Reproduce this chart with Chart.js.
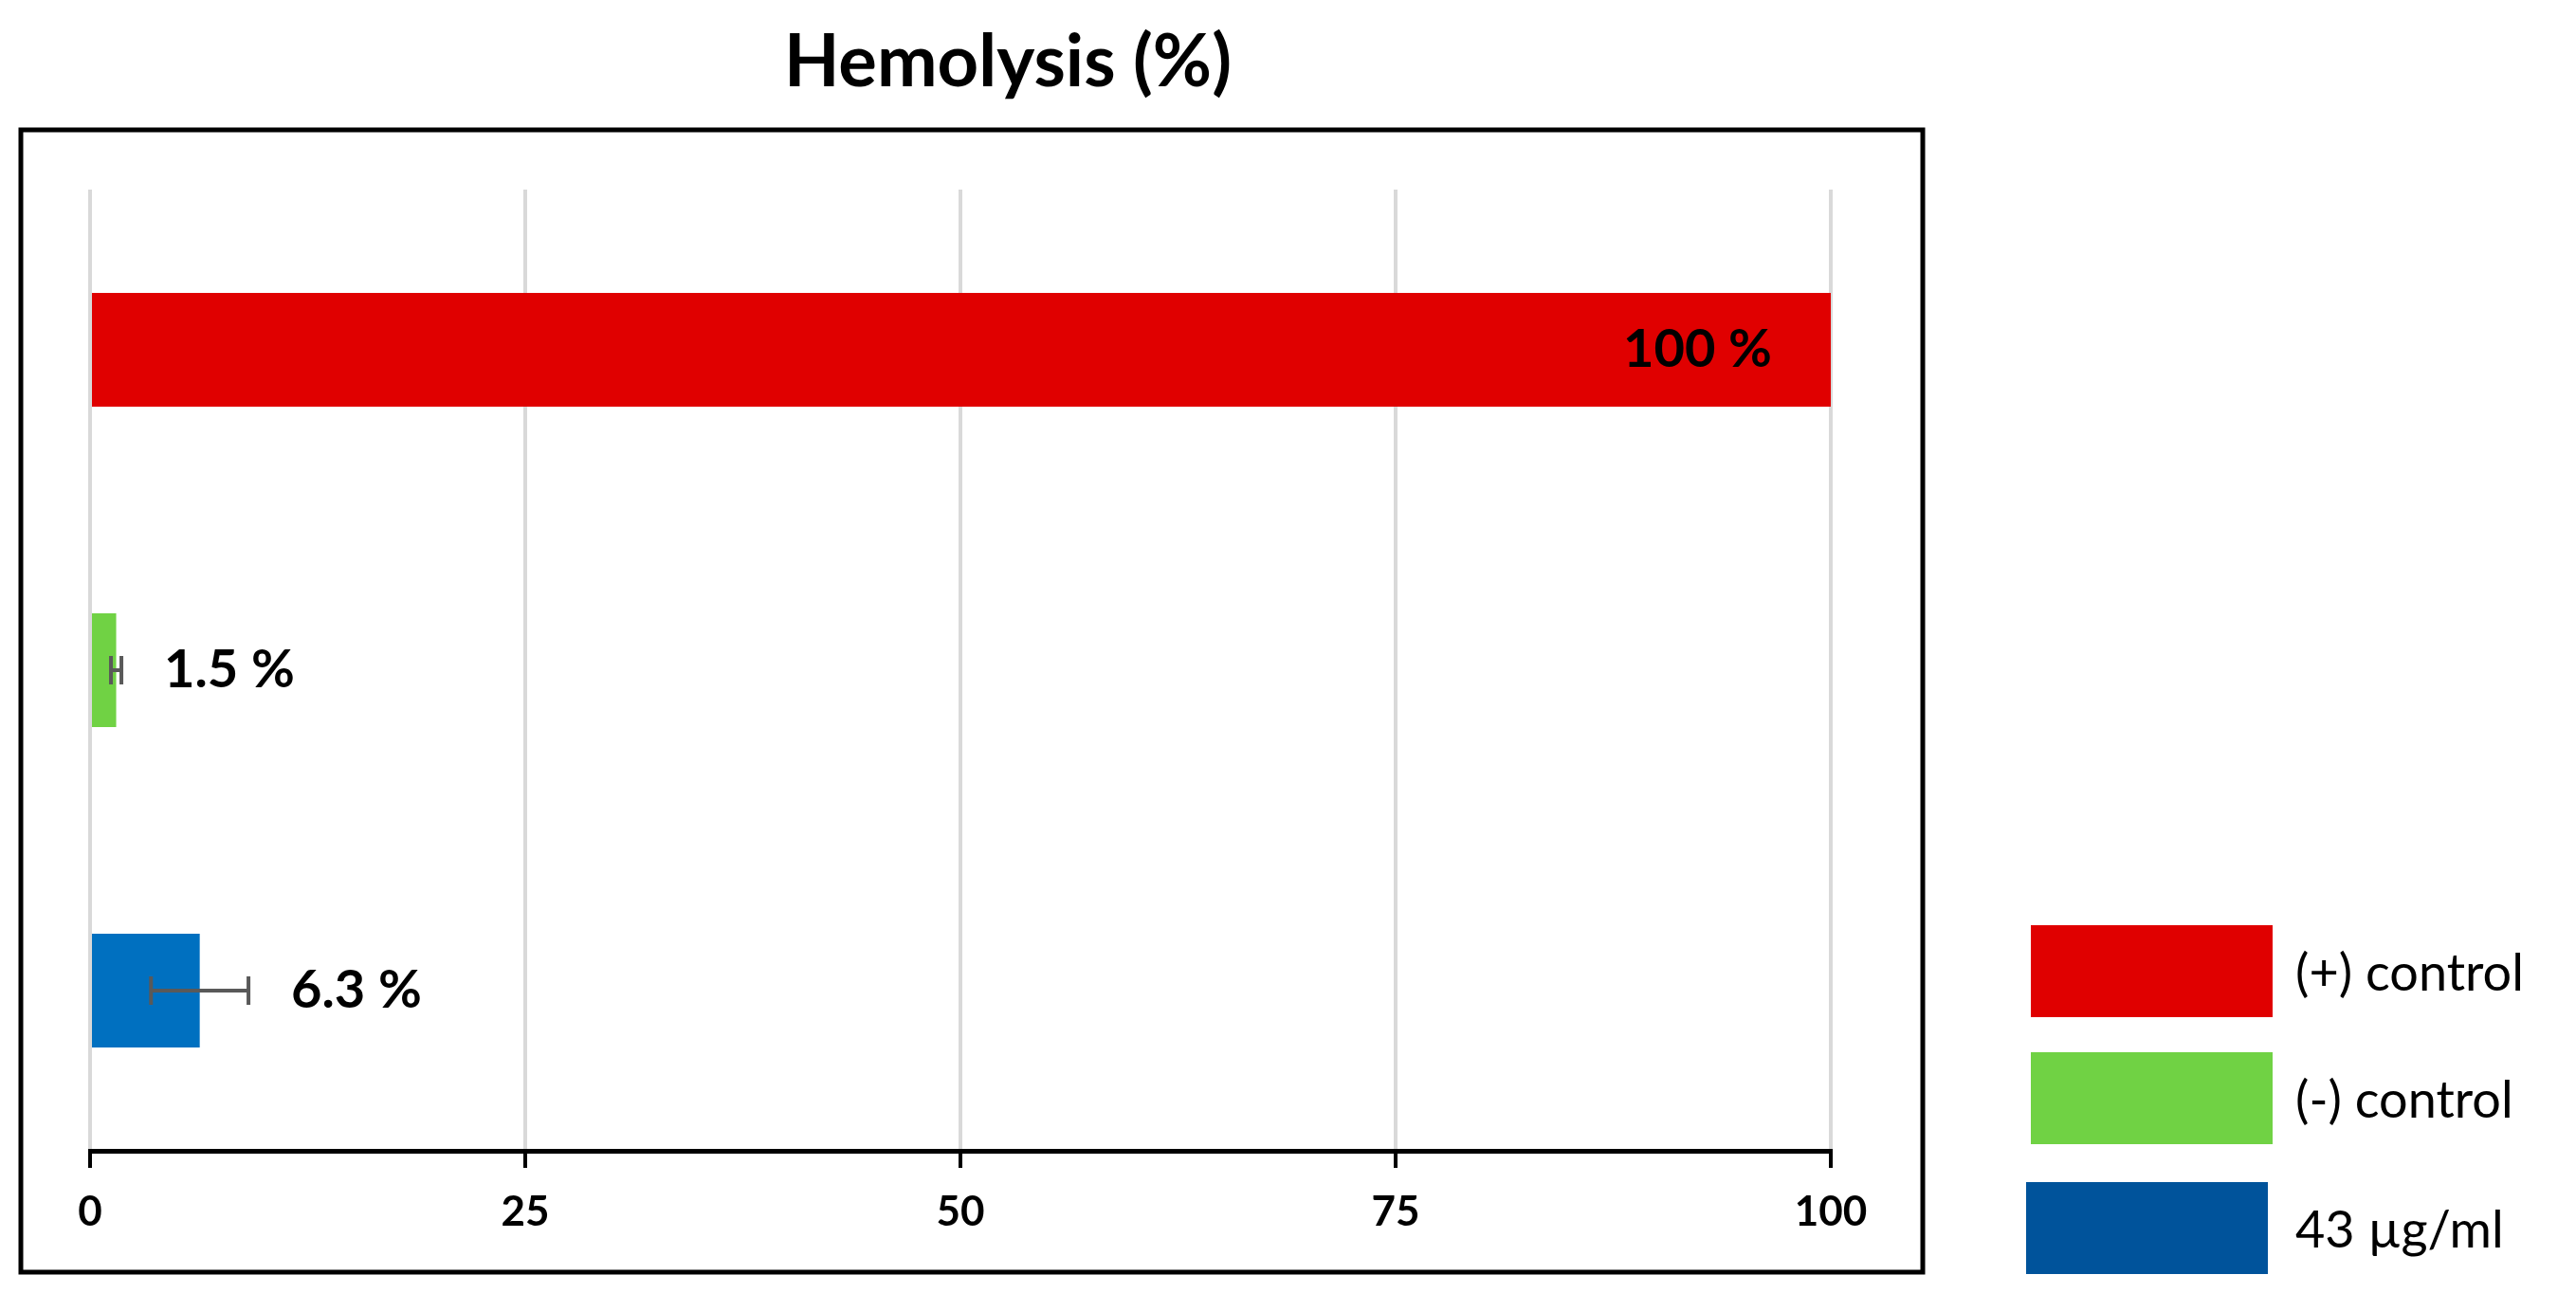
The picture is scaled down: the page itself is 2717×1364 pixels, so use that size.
<!DOCTYPE html>
<html>
<head>
<meta charset="utf-8">
<script src="https://cdn.jsdelivr.net/npm/chart.js@4.4.1/dist/chart.umd.min.js"></script>
<style>
  html, body { margin: 0; padding: 0; background: #fff; }
  #wrap { position: relative; width: 2717px; height: 1364px; }
</style>
</head>
<body>
<div id="wrap"><canvas id="c" width="2717" height="1364"></canvas></div>
<script>
const categories = ['(+) control', '(-) control', '43 µg/ml'];
const values = [100, 1.5, 6.3];
const errors = [0, 0.3, 2.8];
const valueLabels = ['100 %', '1.5 %', '6.3 %'];
const barColors = ['#E00000', '#70D244', '#0070C0'];
const legendColors = ['#E00000', '#70D244', '#00539B'];
const xTicks = [0, 25, 50, 75, 100];

const FONT = 'Lato, "Noto Sans", sans-serif';

const extras = {
  id: 'extras',
  afterDatasetsDraw(chart) {
    const ctx = chart.ctx;
    const x = chart.scales.x;
    const meta = chart.getDatasetMeta(0);
    ctx.save();
    // error bars
    ctx.strokeStyle = '#595959';
    ctx.lineWidth = 4;
    meta.data.forEach((bar, i) => {
      if (!errors[i]) return;
      const x1 = x.getPixelForValue(values[i] - errors[i]);
      const x2 = x.getPixelForValue(values[i] + errors[i]);
      const y = bar.y;
      ctx.beginPath();
      ctx.moveTo(x1, y); ctx.lineTo(x2, y);
      ctx.moveTo(x1, y - 15); ctx.lineTo(x1, y + 15);
      ctx.moveTo(x2, y - 15); ctx.lineTo(x2, y + 15);
      ctx.stroke();
    });
    // value labels
    ctx.fillStyle = '#000';
    ctx.font = 'bold 56px ' + FONT;
    ctx.textBaseline = 'middle';
    meta.data.forEach((bar, i) => {
      if (values[i] >= 90) {
        ctx.textAlign = 'right';
        ctx.fillText(valueLabels[i], bar.x - 62, bar.y);
      } else {
        ctx.textAlign = 'left';
        const end = x.getPixelForValue(values[i] + errors[i]);
        ctx.fillText(valueLabels[i], end + 45, bar.y);
      }
    });
    ctx.restore();
  },
  afterDraw(chart) {
    const ctx = chart.ctx;
    ctx.save();
    // frame
    ctx.strokeStyle = '#000';
    ctx.lineWidth = 5;
    ctx.strokeRect(22, 137, 2006, 1205);
    // title
    ctx.fillStyle = '#000';
    ctx.font = 'bold 76px ' + FONT;
    ctx.textAlign = 'center';
    ctx.textBaseline = 'middle';
    ctx.fillText('Hemolysis (%)', 1063, 66);
    // legend
    const boxY = [976, 1110, 1247];
    ctx.font = '54px ' + FONT;
    ctx.textAlign = 'left';
    categories.forEach((c, i) => {
      ctx.fillStyle = legendColors[i];
      ctx.fillRect(i === 2 ? 2137 : 2142, boxY[i], 255, 97);
      ctx.fillStyle = '#000';
      ctx.fillText(c, 2421, boxY[i] + 52);
    });
    ctx.restore();
  }
};

new Chart(document.getElementById('c').getContext('2d'), {
  type: 'bar',
  data: {
    labels: categories,
    datasets: [{
      data: values,
      backgroundColor: barColors,
      borderWidth: 0,
      categoryPercentage: 0.355,
      barPercentage: 1
    }]
  },
  options: {
    indexAxis: 'y',
    responsive: false,
    animation: false,
    devicePixelRatio: 1,
    layout: { padding: { top: 200, left: 95, right: 786, bottom: 0 } },
    plugins: { legend: { display: false }, title: { display: false }, tooltip: { enabled: false } },
    scales: {
      y: { display: false },
      x: {
        min: 0, max: 100,
        afterBuildTicks: s => { s.ticks = xTicks.map(v => ({ value: v })); },
        afterFit: s => { s.height = 150; },
        border: { display: true, color: '#000', width: 5 },
        grid: {
          color: '#D9D9D9', lineWidth: 4, borderDash: [16, 12],
          drawTicks: true, tickLength: 18, tickColor: '#000', tickWidth: 4, tickBorderDash: []
        },
        ticks: { color: '#000', font: { family: FONT, size: 44, weight: 'bold' }, padding: 20 }
      }
    }
  },
  plugins: [extras]
});
</script>
</body>
</html>
